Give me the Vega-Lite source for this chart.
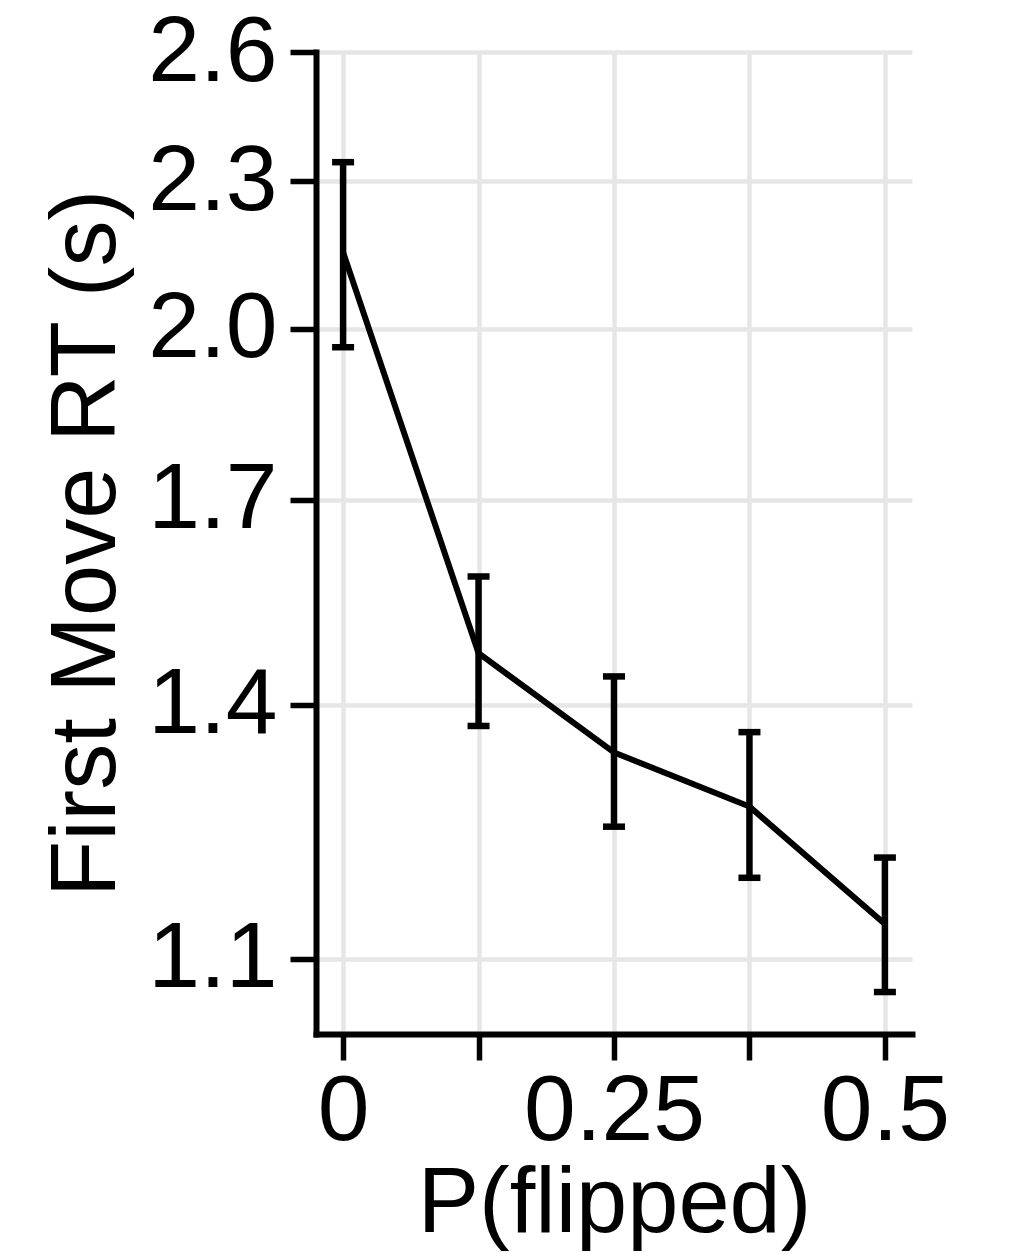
{
  "$schema": "https://vega.github.io/schema/vega-lite/v6.json",
  "autosize": {"type": "none"},
  "padding": {"left": 316, "top": 52, "right": 118, "bottom": 218},
  "width": 596,
  "height": 982,
  "background": "white",
  "config": {
    "view": {"stroke": null},
    "font": "Liberation Sans",
    "axis": {
      "labelFont": "Liberation Sans",
      "titleFont": "Liberation Sans",
      "labelFontSize": 93,
      "titleFontSize": 92,
      "titleFontWeight": "normal",
      "labelColor": "black",
      "titleColor": "black",
      "labelLimit": 500,
      "titleLimit": 1200,
      "domainColor": "black",
      "domainWidth": 6,
      "domainCap": "square",
      "tickColor": "black",
      "tickWidth": 5.5,
      "tickSize": 26,
      "gridColor": "#e6e6e6",
      "gridWidth": 4.5
    }
  },
  "data": {
    "values": [
      {"p": 0, "mean": 2.150, "lo": 1.965, "hi": 2.342},
      {"p": 0.125, "mean": 1.470, "lo": 1.372, "hi": 1.581},
      {"p": 0.25, "mean": 1.338, "lo": 1.247, "hi": 1.438},
      {"p": 0.375, "mean": 1.271, "lo": 1.188, "hi": 1.364},
      {"p": 0.5, "mean": 1.137, "lo": 1.066, "hi": 1.211}
    ]
  },
  "encoding": {
    "x": {
      "field": "p",
      "type": "quantitative",
      "scale": {"domain": [-0.025, 0.525], "nice": false, "zero": false},
      "axis": {
        "values": [0, 0.125, 0.25, 0.375, 0.5],
        "labelExpr": "datum.value == 0 ? '0' : datum.value == 0.25 ? '0.25' : datum.value == 0.5 ? '0.5' : ''",
        "title": "P(flipped)",
        "labelPadding": 6,
        "titlePadding": 0,
        "labelFlush": false,
        "labelOverlap": false
      }
    }
  },
  "layer": [
    {
      "mark": {"type": "line", "color": "black", "strokeWidth": 6},
      "encoding": {
        "y": {
          "field": "mean",
          "type": "quantitative",
          "scale": {"type": "log", "domain": [1.0244, 2.6], "nice": false, "zero": false},
          "axis": {
            "values": [1.1, 1.4, 1.7, 2.0, 2.3, 2.6],
            "format": ".1f",
            "title": "First Move RT (s)",
            "labelPadding": 13,
            "titlePadding": 14,
            "labelFlush": false,
            "labelOverlap": false
          }
        }
      }
    },
    {
      "mark": {"type": "rule", "color": "black", "strokeWidth": 6.5, "opacity": 1},
      "encoding": {
        "y": {"field": "lo", "type": "quantitative"},
        "y2": {"field": "hi"}
      }
    },
    {
      "mark": {"type": "tick", "color": "black", "opacity": 1, "thickness": 6.5, "size": 22, "orient": "horizontal"},
      "encoding": {
        "y": {"field": "lo", "type": "quantitative"}
      }
    },
    {
      "mark": {"type": "tick", "color": "black", "opacity": 1, "thickness": 6.5, "size": 22, "orient": "horizontal"},
      "encoding": {
        "y": {"field": "hi", "type": "quantitative"}
      }
    }
  ]
}
